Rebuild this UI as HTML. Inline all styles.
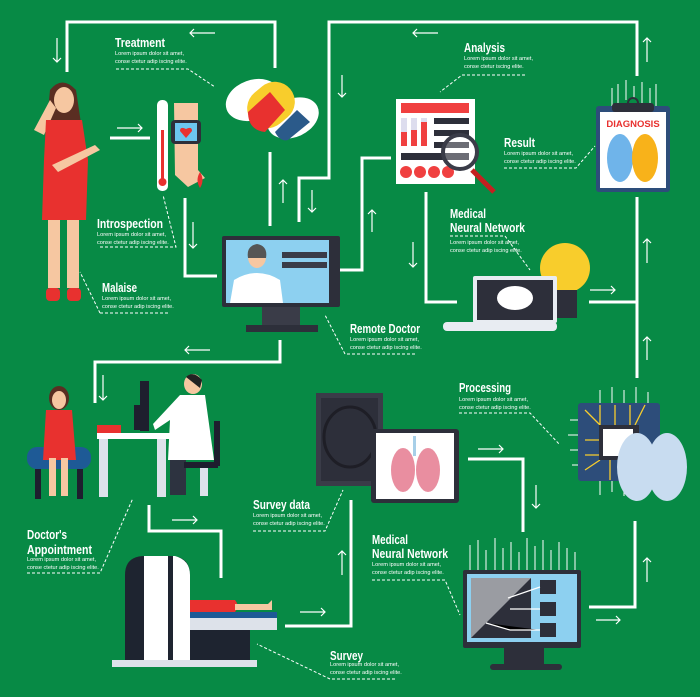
<!DOCTYPE html>
<html><head><meta charset="utf-8"><style>
html,body{margin:0;padding:0;background:#078a45;}
svg{display:block}
.t{font-family:"Liberation Sans Narrow","Liberation Sans",sans-serif;font-weight:bold;font-size:13px;fill:#fff}
.b{font-family:"Liberation Sans Narrow","Liberation Sans",sans-serif;font-size:5.6px;fill:#fff}
.l{stroke:#fff;stroke-width:3;fill:none}
.a{stroke:#fff;stroke-width:1.2;fill:none}
.d{stroke:#fff;stroke-width:1;stroke-dasharray:3 2;fill:none}
</style></head><body>
<svg width="700" height="697" viewBox="0 0 700 697" xmlns="http://www.w3.org/2000/svg">
<rect width="700" height="697" fill="#078a45"/>
<g class="l">
<polyline points="67,72 67,22 275,22 275,68"/>
<line x1="270" y1="152" x2="270" y2="226"/>
<polyline points="299,222 299,178 329,178 329,22 637,22 637,76"/>
<polyline points="185,198 185,276 217,276"/>
<line x1="110" y1="138" x2="150" y2="138"/>
<polyline points="637,197 637,378"/>
<polyline points="589,302 637,302"/>
<polyline points="635,521 635,607 589,607"/>
<polyline points="426,192 426,302 457,302"/>
<polyline points="340,270 362,270 362,158 391,158"/>
<polyline points="280,340 280,362 95,362 95,403"/>
<polyline points="149,505 149,531 221,531 221,578"/>
<polyline points="285,626 351,626 351,500"/>
<polyline points="468,459 523,459 523,532"/>
</g>
<g class="a">
<path d="M57,38V62M53,58L57,62L61,58"/>
<path d="M215,33H190M194,29L190,33L194,37"/>
<path d="M438,33H413M417,29L413,33L417,37"/>
<path d="M342,75V97M338,93L342,97L346,93"/>
<path d="M647,62V38M643,42L647,38L651,42"/>
<path d="M312,190V212M308,208L312,212L316,208"/>
<path d="M283,203V180M279,184L283,180L287,184"/>
<path d="M117,128H142M138,124L142,128L138,132"/>
<path d="M193,222V248M189,244L193,248L197,244"/>
<path d="M372,232V210M368,214L372,210L376,214"/>
<path d="M413,242V267M409,263L413,267L417,263"/>
<path d="M590,290H615M611,286L615,290L611,294"/>
<path d="M647,263V239M643,243L647,239L651,243"/>
<path d="M647,360V337M643,341L647,337L651,341"/>
<path d="M647,582V558M643,562L647,558L651,562"/>
<path d="M596,620H620M616,616L620,620L616,624"/>
<path d="M210,350H185M189,346L185,350L189,354"/>
<path d="M103,375V400M99,396L103,400L107,396"/>
<path d="M172,520H197M193,516L197,520L193,524"/>
<path d="M342,575V551M338,555L342,551L346,555"/>
<path d="M300,612H325M321,608L325,612L321,616"/>
<path d="M478,449H503M499,445L503,449L499,453"/>
<path d="M536,485V508M532,504L536,508L540,504"/>
</g>
<g class="d">
<polyline points="116,69 188,69 215,87"/>
<polyline points="100,247 176,247 163,195"/>
<polyline points="100,313 168,313"/><line x1="100" y1="313" x2="80" y2="272"/>
<polyline points="525,75 462,75 440,92"/>
<polyline points="504,168 576,168 595,146"/>
<polyline points="450,236 505,236 530,270"/>
<polyline points="415,354 345,354 325,315"/>
<polyline points="27,573 100,573 133,498"/>
<polyline points="253,531 325,531 343,490"/>
<polyline points="459,413 530,413 560,445"/>
<polyline points="372,580 445,580 460,615"/>
<polyline points="395,679 330,679 257,644"/>
</g>
<g>
<text class="t" x="115" y="47" textLength="50" lengthAdjust="spacingAndGlyphs">Treatment</text><text class="b" x="115" y="55">Lorem ipsum dolor sit amet,</text><text class="b" x="115" y="63">conse ctetur adip iscing elite.</text>
<text class="t" x="97" y="228" textLength="66" lengthAdjust="spacingAndGlyphs">Introspection</text><text class="b" x="97" y="236">Lorem ipsum dolor sit amet,</text><text class="b" x="97" y="244">conse ctetur adip iscing elite.</text>
<text class="t" x="102" y="292" textLength="35" lengthAdjust="spacingAndGlyphs">Malaise</text><text class="b" x="102" y="300">Lorem ipsum dolor sit amet,</text><text class="b" x="102" y="308">conse ctetur adip iscing elite.</text>
<text class="t" x="464" y="52" textLength="41" lengthAdjust="spacingAndGlyphs">Analysis</text><text class="b" x="464" y="60">Lorem ipsum dolor sit amet,</text><text class="b" x="464" y="68">conse ctetur iscing elite.</text>
<text class="t" x="504" y="147" textLength="31" lengthAdjust="spacingAndGlyphs">Result</text><text class="b" x="504" y="155">Lorem ipsum dolor sit amet,</text><text class="b" x="504" y="163">conse ctetur adip iscing elite.</text>
<text class="t" x="450" y="218" textLength="36" lengthAdjust="spacingAndGlyphs">Medical</text><text class="t" x="450" y="232" textLength="75" lengthAdjust="spacingAndGlyphs">Neural Network</text><text class="b" x="450" y="244">Lorem ipsum dolor sit amet,</text><text class="b" x="450" y="252">conse ctetur adip iscing elite.</text>
<text class="t" x="350" y="333" textLength="70" lengthAdjust="spacingAndGlyphs">Remote Doctor</text><text class="b" x="350" y="341">Lorem ipsum dolor sit amet,</text><text class="b" x="350" y="349">conse ctetur adip iscing elite.</text>
<text class="t" x="27" y="539" textLength="40" lengthAdjust="spacingAndGlyphs">Doctor's</text><text class="t" x="27" y="554" textLength="65" lengthAdjust="spacingAndGlyphs">Appointment</text><text class="b" x="27" y="561">Lorem ipsum dolor sit amet,</text><text class="b" x="27" y="569">conse ctetur adip iscing elite.</text>
<text class="t" x="253" y="509" textLength="57" lengthAdjust="spacingAndGlyphs">Survey data</text><text class="b" x="253" y="517">Lorem ipsum dolor sit amet,</text><text class="b" x="253" y="525">conse ctetur adip iscing elite.</text>
<text class="t" x="459" y="392" textLength="52" lengthAdjust="spacingAndGlyphs">Processing</text><text class="b" x="459" y="401">Lorem ipsum dolor sit amet,</text><text class="b" x="459" y="409">conse ctetur adip iscing elite.</text>
<text class="t" x="372" y="544" textLength="36" lengthAdjust="spacingAndGlyphs">Medical</text><text class="t" x="372" y="558" textLength="76" lengthAdjust="spacingAndGlyphs">Neural Network</text><text class="b" x="372" y="566">Lorem ipsum dolor sit amet,</text><text class="b" x="372" y="574">conse ctetur adip iscing elite.</text>
<text class="t" x="330" y="660" textLength="33" lengthAdjust="spacingAndGlyphs">Survey</text><text class="b" x="330" y="666">Lorem ipsum dolor sit amet,</text><text class="b" x="330" y="674">conse ctetur adip iscing elite.</text>
</g>
<g>
<path d="M50,90 Q62,75 76,90 L82,130 L46,130 Z" fill="#5a2e22"/>
<ellipse cx="64" cy="100" rx="10" ry="13" fill="#f6c7a1"/>
<path d="M34,130 L50,100 L56,108 L44,135 Z" fill="#f6c7a1"/>
<path d="M46,120 L82,120 L88,160 L86,220 L42,220 L44,160 Z" fill="#e8312f"/>
<path d="M52,165 L95,145 L100,150 L58,172 Z" fill="#f6c7a1"/>
<rect x="48" y="220" width="12" height="68" fill="#f6c7a1"/>
<rect x="67" y="220" width="12" height="68" fill="#f6c7a1"/>
<rect x="46" y="288" width="14" height="13" rx="4" fill="#e8312f"/>
<rect x="67" y="288" width="14" height="13" rx="4" fill="#e8312f"/>
</g>
<rect x="157" y="100" width="11" height="91" rx="5" fill="#fff"/>
<rect x="161" y="130" width="3" height="50" fill="#e8312f"/>
<circle cx="162.5" cy="182" r="4" fill="#e8312f"/>
<path d="M174,103 H198 V170 L205,178 L188,187 L175,175 Z" fill="#f6c7a1"/>
<rect x="171" y="120" width="30" height="24" rx="4" fill="#2d2f3a"/>
<rect x="175" y="123" width="22" height="18" fill="#6cc6ef"/>
<path d="M186,138 L180,131 Q180,126 186,129 Q192,126 192,131 Z" fill="#e8312f"/>
<path d="M200,172 Q205,180 200,188 Q195,180 200,172Z" fill="#e8312f"/>
<ellipse cx="253" cy="100" rx="28" ry="20" fill="#fff" transform="rotate(-20 253 100)"/>
<ellipse cx="293" cy="118" rx="27" ry="19" fill="#fff" transform="rotate(-25 293 118)"/>
<path d="M275,132 L297,110 L310,122 L288,140 Q280,142 275,132Z" fill="#2b5a8a"/>
<rect x="246" y="85" width="50" height="40" rx="20" fill="#f8cd2c" transform="rotate(-40 271 105)"/>
<path d="M248,112 L270,92 L285,110 L265,132 Q248,130 248,112Z" fill="#e8312f"/>
<rect x="222" y="236" width="118" height="71" rx="2" fill="#2d2f3a"/>
<rect x="226" y="240" width="103" height="63" fill="#8dd0f0"/>
<ellipse cx="257" cy="257" rx="9" ry="11" fill="#f6c7a1"/>
<path d="M257,244 Q246,246 248,258 L266,258 Q268,246 257,244Z" fill="#555"/>
<path d="M230,303 L234,280 Q257,266 280,280 L283,303Z" fill="#fff"/>
<rect x="282" y="252" width="45" height="6" fill="#3a3c48"/>
<rect x="282" y="262" width="45" height="6" fill="#3a3c48"/>
<rect x="262" y="307" width="38" height="18" fill="#3a3c48"/>
<rect x="246" y="325" width="72" height="7" fill="#2d2f3a"/>
<rect x="396" y="99" width="79" height="85" fill="#fff"/>
<rect x="401" y="103" width="68" height="10" fill="#f04040"/>
<rect x="401" y="118" width="6" height="28" fill="#dde"/><rect x="411" y="118" width="6" height="28" fill="#dde"/><rect x="421" y="118" width="6" height="28" fill="#dde"/>
<rect x="401" y="132" width="6" height="14" fill="#f04040"/><rect x="411" y="130" width="6" height="16" fill="#f04040"/><rect x="421" y="122" width="6" height="24" fill="#f04040"/>
<rect x="434" y="118" width="35" height="6" fill="#2d2f3a"/><rect x="434" y="130" width="35" height="6" fill="#2d2f3a"/><rect x="434" y="142" width="35" height="6" fill="#2d2f3a"/>
<rect x="401" y="153" width="68" height="7" fill="#2d2f3a"/>
<circle cx="406" cy="172" r="6" fill="#f04040"/><circle cx="420" cy="172" r="6" fill="#f04040"/><circle cx="434" cy="172" r="6" fill="#f04040"/><circle cx="448" cy="172" r="6" fill="#f04040"/>
<line x1="472" y1="170" x2="494" y2="192" stroke="#c42020" stroke-width="5"/>
<circle cx="460" cy="152" r="17" fill="rgba(255,255,255,0.3)" stroke="#3a3c48" stroke-width="4"/>
<g stroke="#fff" stroke-width="1" fill="none"><path d="M612,106 V88 M618,106 V84 M626,100 V80 M634,98 V86 M642,106 V82 M650,104 V88 M656,106 V84"/></g>
<rect x="596" y="106" width="74" height="86" rx="3" fill="#2d4d7a"/>
<rect x="600" y="112" width="66" height="76" fill="#fff"/>
<rect x="612" y="103" width="42" height="9" rx="3" fill="#2d2f3a"/>
<circle cx="633" cy="103" r="5" fill="none" stroke="#2d2f3a" stroke-width="2"/>
<text x="633" y="127" text-anchor="middle" font-family="Liberation Sans,sans-serif" font-weight="bold" font-size="9.5" fill="#e8312f">DIAGNOSIS</text>
<ellipse cx="620" cy="158" rx="13" ry="24" fill="#6fb4ea"/>
<ellipse cx="645" cy="158" rx="13" ry="24" fill="#f8b21a"/>
<circle cx="565" cy="268" r="25" fill="#f8cd2c"/>
<rect x="553" y="290" width="24" height="28" fill="#2d2f3a"/>
<rect x="473" y="276" width="84" height="47" rx="2" fill="#e8ecf2"/>
<rect x="477" y="280" width="76" height="40" fill="#2d2f3a"/>
<ellipse cx="515" cy="298" rx="18" ry="12" fill="#fff"/>
<rect x="443" y="322" width="114" height="9" rx="4" fill="#e8ecf2"/>
<rect x="27" y="447" width="64" height="22" rx="10" fill="#1e5a96"/>
<rect x="35" y="469" width="6" height="30" fill="#1e1e2e"/><rect x="77" y="469" width="6" height="30" fill="#1e1e2e"/>
<ellipse cx="59" cy="398" rx="10" ry="12" fill="#5a2e22"/>
<ellipse cx="59" cy="400" rx="7" ry="9" fill="#f6c7a1"/>
<path d="M46,410 L72,410 L76,460 L43,460 Z" fill="#e8312f"/>
<rect x="49" y="458" width="7" height="38" fill="#f6c7a1"/><rect x="61" y="458" width="7" height="38" fill="#f6c7a1"/>
<rect x="97" y="433" width="74" height="6" fill="#fff"/>
<rect x="99" y="439" width="9" height="58" fill="#dde2ea"/><rect x="157" y="439" width="9" height="58" fill="#dde2ea"/>
<rect x="97" y="425" width="24" height="8" fill="#e8312f"/>
<rect x="140" y="381" width="9" height="50" fill="#1e1e2e"/>
<rect x="134" y="405" width="6" height="25" fill="#1e1e2e"/>
<ellipse cx="193" cy="384" rx="9" ry="10" fill="#f6c7a1"/>
<path d="M186,377 Q193,370 202,380 L200,388 Z" fill="#222"/>
<path d="M180,395 L205,395 L214,460 L168,460 L170,420 L155,430 L153,424 Z" fill="#fff"/>
<rect x="170" y="460" width="16" height="35" fill="#2d3340"/>
<rect x="184" y="462" width="34" height="6" fill="#1e1e2e"/><rect x="200" y="468" width="8" height="28" fill="#dde2ea"/>
<rect x="214" y="421" width="6" height="45" fill="#1e1e2e"/>
<rect x="316" y="393" width="67" height="93" fill="#3a3c48"/>
<rect x="321" y="398" width="57" height="83" fill="#2d2f3a"/>
<ellipse cx="350" cy="437" rx="26" ry="30" fill="none" stroke="#1e1e26" stroke-width="3"/>
<rect x="371" y="429" width="88" height="74" rx="3" fill="#2d2f3a"/>
<rect x="376" y="433" width="78" height="66" fill="#fff"/>
<ellipse cx="403" cy="470" rx="12" ry="22" fill="#e98ea0"/>
<ellipse cx="428" cy="470" rx="12" ry="22" fill="#e98ea0"/>
<rect x="413" y="436" width="3" height="20" fill="#a7cfe8"/>
<g stroke="#fff" stroke-width="1"><path d="M600,405V390M612,405V387M624,405V390M636,405V387M648,405V392M590,420H570M590,435H568M590,450H570M590,465H572M600,480V495M612,480V492M624,480V496"/></g>
<rect x="578" y="403" width="82" height="78" rx="3" fill="#2d4d7a"/>
<g stroke="#f8cd2c" stroke-width="1.3" fill="none"><path d="M585,410L600,425M600,405V425M615,405V425M630,405V425M645,405L635,425M585,440H600M585,455H600M585,470L600,460M610,480V460M625,480V460"/></g>
<rect x="599" y="425" width="40" height="35" fill="#2d2f3a"/>
<rect x="603" y="429" width="30" height="27" fill="#fff"/>
<ellipse cx="637" cy="467" rx="20" ry="34" fill="#c8dcf0"/>
<ellipse cx="667" cy="467" rx="20" ry="34" fill="#c8dcf0"/>
<path d="M125,660 V575 Q125,556 145,556 H170 Q190,556 190,575 V660Z" fill="#1e2430"/>
<rect x="144" y="556" width="24" height="104" fill="#fff"/>
<path d="M173,556 H175 Q190,560 190,575 V660 H173Z" fill="#fff"/>
<rect x="190" y="627" width="60" height="33" fill="#1e2430"/>
<rect x="190" y="617" width="87" height="13" fill="#dde2ea"/>
<rect x="190" y="612" width="87" height="6" fill="#1e5a96"/>
<path d="M190,600 H235 Q240,606 235,612 H190Z" fill="#e8312f"/>
<path d="M235,604 H268 L272,600 V610 H235Z" fill="#f6c7a1"/>
<rect x="112" y="660" width="145" height="7" fill="#dde2ea"/>
<g stroke="#fff" stroke-width="1" fill="none"><path d="M470,570V545M478,570V540M486,570V550M495,570V538M503,570V548M511,570V542M519,570V552M527,570V538M535,570V546M543,570V540M551,570V550M559,570V542M567,570V548M575,570V552"/></g>
<rect x="463" y="570" width="118" height="78" rx="2" fill="#2d2f3a"/>
<rect x="467" y="574" width="110" height="68" fill="#8dd0f0"/>
<rect x="471" y="578" width="60" height="60" fill="#9a9ca2"/>
<path d="M471,638 L531,578 V638Z" fill="#2d2f3a"/>
<rect x="540" y="580" width="16" height="14" fill="#2d2f3a"/><rect x="540" y="602" width="16" height="14" fill="#2d2f3a"/><rect x="540" y="623" width="16" height="14" fill="#2d2f3a"/>
<g stroke="#fff" stroke-width="1.2"><path d="M508,598L540,587M510,609H540M486,623L510,630H540"/></g>
<rect x="504" y="648" width="40" height="16" fill="#2d2f3a"/>
<rect x="490" y="664" width="72" height="6" rx="3" fill="#2d2f3a"/>
</svg>
</body></html>
